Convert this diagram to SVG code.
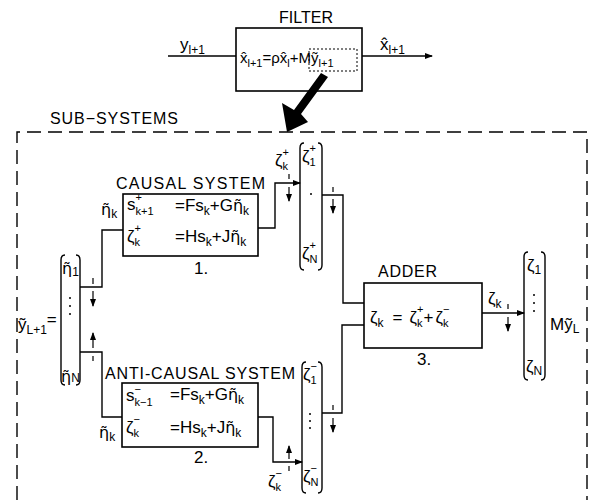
<svg xmlns="http://www.w3.org/2000/svg" width="591" height="504" viewBox="0 0 591 504">
<defs>
<marker id="ah" markerWidth="8" markerHeight="6" refX="7" refY="3" orient="auto" markerUnits="userSpaceOnUse"><path d="M0,0 L8,3 L0,6 Z" fill="#000"/></marker>
</defs>
<style>
text{font-family:"Liberation Sans",Arial,sans-serif;fill:#000}
.t{font-size:16px}
.eq{font-size:17px}
.s{font-size:12px}
.u{font-size:11px}
.et{font-family:"DejaVu Sans",sans-serif;font-size:16px}
.box{fill:none;stroke:#000;stroke-width:1.6}
.ln{fill:none;stroke:#000;stroke-width:1.4}
.col{fill:none;stroke:#000;stroke-width:1.4}
.tk{stroke:#000;stroke-width:1.2}
.dash{fill:none;stroke:#000;stroke-width:1.4;stroke-dasharray:14 7}
.dot{fill:#000}
</style>
<rect width="591" height="504" fill="#fff"/>

<!-- FILTER -->
<g id="filter">
<text class="t" x="306" y="23" text-anchor="middle">FILTER</text>
<rect class="box" x="236" y="28" width="126" height="63"/>
<text x="240" y="63" font-size="15">x̂<tspan font-size="11" dy="4">l+1</tspan><tspan dy="-4">=ρx̂</tspan><tspan font-size="11" dy="4">l</tspan><tspan dy="-4">+Mỹ</tspan><tspan font-size="11" dy="4">l+1</tspan></text>
<rect x="309" y="49" width="48" height="22" fill="none" stroke="#000" stroke-width="1" stroke-dasharray="2 2"/>
</g>
<g id="filter-io">
<text class="eq" x="180" y="50">y<tspan class="s" dy="4">l+1</tspan></text>
<text class="eq" x="380" y="50">x̂<tspan class="s" dy="4">l+1</tspan></text>
</g>

<!-- big arrow -->
<polygon points="321,73 328,77 301,114 308,122 287,132 282,103 294,110" fill="#000"/>

<!-- SUB-SYSTEMS dashed box -->
<g id="subsystems">
<text class="t" x="50" y="124" textLength="128" font-size="15">SUB−SYSTEMS</text>
<path class="dash" d="M17,500 L17,132 L587,132 L587,500"/>
</g>

<!-- input vector -->
<g id="input-vector">
<path class="col" d="M65,255 Q61,255 61,260 L61,380 Q61,385 65,385"/>
<path class="col" d="M76,255 Q80,255 80,260 L80,380 Q80,385 76,385"/>
<text class="eq" x="62" y="274"><tspan class="et">η̃</tspan><tspan class="s" dy="2">1</tspan></text>
<circle class="dot" cx="70" cy="298" r="1"/>
<circle class="dot" cx="70" cy="306" r="1"/>
<circle class="dot" cx="70" cy="314" r="1"/>
<text class="eq" x="61" y="382"><tspan class="et" font-size="14">η̃</tspan><tspan class="s">N</tspan></text>
<text class="eq" x="18" y="330">ỹ<tspan class="s" dy="4">L+1</tspan><tspan dy="-9">=</tspan></text>
</g>

<!-- causal system -->
<g id="causal">
<text class="t" x="116" y="189" textLength="149">CAUSAL SYSTEM</text>
<rect class="box" x="123" y="194" width="135" height="62"/>
<text class="eq" x="127" y="210">s<tspan class="u" dy="-9">+</tspan><tspan class="u" dx="-6.4" dy="14">k+1</tspan></text>
<text class="eq" x="175" y="211">=Fs<tspan class="s" dy="4">k</tspan><tspan dy="-4">+G</tspan><tspan class="et">η̃</tspan><tspan class="s" dy="4">k</tspan></text>
<text class="eq" x="127" y="242">ζ<tspan class="u" dy="-10">+</tspan><tspan class="u" dx="-6.4" dy="14">k</tspan></text>
<text class="eq" x="175" y="242">=Hs<tspan class="s" dy="4">k</tspan><tspan dy="-4">+J</tspan><tspan class="et">η̃</tspan><tspan class="s" dy="4">k</tspan></text>
<text class="eq" x="194" y="274">1.</text>
</g>

<!-- anti-causal system -->
<g id="anticausal">
<text class="t" x="105" y="379" textLength="190">ANTI-CAUSAL SYSTEM</text>
<rect class="box" x="122" y="383" width="136" height="64"/>
<text class="eq" x="126" y="401">s<tspan class="u" dy="-8">−</tspan><tspan class="u" dx="-6.4" dy="13">k−1</tspan></text>
<text class="eq" x="170" y="400">=Fs<tspan class="s" dy="4">k</tspan><tspan dy="-4">+G</tspan><tspan class="et">η̃</tspan><tspan class="s" dy="4">k</tspan></text>
<text class="eq" x="126" y="433">ζ<tspan class="u" dy="-10">−</tspan><tspan class="u" dx="-6.4" dy="14">k</tspan></text>
<text class="eq" x="170" y="433">=Hs<tspan class="s" dy="4">k</tspan><tspan dy="-4">+J</tspan><tspan class="et">η̃</tspan><tspan class="s" dy="4">k</tspan></text>
<text class="eq" x="194" y="463">2.</text>
</g>

<!-- causal output vector -->
<g id="causal-vector">
<path class="col" d="M304,143 Q300,143 300,148 L300,265 Q300,270 304,270"/>
<path class="col" d="M318,143 Q322,143 322,148 L322,265 Q322,270 318,270"/>
<text class="eq" x="302" y="162">ζ<tspan class="u" dy="-10">+</tspan><tspan class="u" dx="-6.4" dy="14">1</tspan></text>
<circle class="dot" cx="311" cy="194" r="1"/>
<text class="eq" x="302" y="259">ζ<tspan class="u" dy="-10">+</tspan><tspan class="u" dx="-6.4" dy="14">N</tspan></text>
</g>

<!-- anti-causal output vector -->
<g id="anticausal-vector">
<path class="col" d="M306,362 Q302,362 302,367 L302,488 Q302,493 306,493"/>
<path class="col" d="M318,362 Q322,362 322,367 L322,488 Q322,493 318,493"/>
<text class="eq" x="303" y="380">ζ<tspan class="u" dy="-10">−</tspan><tspan class="u" dx="-6.4" dy="14">1</tspan></text>
<circle class="dot" cx="310" cy="414" r="1"/>
<circle class="dot" cx="310" cy="421" r="1"/>
<circle class="dot" cx="310" cy="428" r="1"/>
<text class="eq" x="303" y="482">ζ<tspan class="u" dy="-10">−</tspan><tspan class="u" dx="-6.4" dy="14">N</tspan></text>
</g>

<!-- adder -->
<g id="adder">
<text class="t" x="378" y="277" textLength="59">ADDER</text>
<rect class="box" x="364" y="283" width="118" height="65"/>
<text class="eq" x="370" y="323">ζ<tspan class="s" dy="4">k</tspan><tspan dx="9" dy="-4">=</tspan><tspan dx="7">ζ</tspan><tspan class="u" dy="-10">+</tspan><tspan class="u" dx="-6.4" dy="14">k</tspan><tspan dx="1" dy="-4">+</tspan><tspan dx="2">ζ</tspan><tspan class="u" dy="-10">−</tspan><tspan class="u" dx="-6.4" dy="14">k</tspan></text>
<text class="eq" x="417" y="365">3.</text>
</g>

<!-- output vector -->
<g id="output-vector">
<path class="col" d="M528,252 Q524,252 524,257 L524,375 Q524,380 528,380"/>
<path class="col" d="M541,252 Q545,252 545,257 L545,375 Q545,380 541,380"/>
<text class="eq" x="527" y="271">ζ<tspan class="s" dy="3">1</tspan></text>
<circle class="dot" cx="534" cy="295" r="1"/>
<circle class="dot" cx="534" cy="303" r="1"/>
<circle class="dot" cx="534" cy="311" r="1"/>
<text class="eq" x="526" y="372">ζ<tspan class="s" dy="3">N</tspan></text>
<text class="eq" x="550" y="330">Mỹ<tspan class="s" dy="3">L</tspan></text>
</g>

<!-- connectors -->
<g id="connectors">
<line class="ln" x1="168" y1="56" x2="236" y2="56"/>
<line class="ln" x1="362" y1="56" x2="432" y2="56" marker-end="url(#ah)"/>
<path class="ln" d="M80,287 H102 V230 H123"/>
<path class="ln" d="M80,352 H102 V417 H122"/>
<path class="ln" d="M258,228 H275 V183 H300" marker-end="url(#ah)"/>
<path class="ln" d="M258,417 H273 V462 H302" marker-end="url(#ah)"/>
<path class="ln" d="M322,195 H343 V303 H364"/>
<path class="ln" d="M322,413 H342 V325 H364"/>
<line class="ln" x1="482" y1="313" x2="524" y2="313" marker-end="url(#ah)"/>

<!-- sampling ticks -->
<line class="tk" x1="93" y1="278" x2="93" y2="284"/>
<line class="tk" x1="93" y1="291" x2="93" y2="306" marker-end="url(#ah)"/>
<line class="tk" x1="93" y1="356" x2="93" y2="361"/>
<line class="tk" x1="93" y1="348" x2="93" y2="333" marker-end="url(#ah)"/>
<line class="tk" x1="289" y1="174" x2="289" y2="179"/>
<line class="tk" x1="289" y1="187" x2="289" y2="201" marker-end="url(#ah)"/>
<line class="tk" x1="333" y1="187" x2="333" y2="192"/>
<line class="tk" x1="333" y1="199" x2="333" y2="213" marker-end="url(#ah)"/>
<line class="tk" x1="333" y1="405" x2="333" y2="410"/>
<line class="tk" x1="333" y1="418" x2="333" y2="432" marker-end="url(#ah)"/>
<line class="tk" x1="289" y1="466" x2="289" y2="471"/>
<line class="tk" x1="289" y1="459" x2="289" y2="446" marker-end="url(#ah)"/>
<line class="tk" x1="508" y1="304" x2="508" y2="309"/>
<line class="tk" x1="508" y1="317" x2="508" y2="331" marker-end="url(#ah)"/>
</g>

<!-- connector labels -->
<g id="labels">
<text class="eq" x="101" y="215"><tspan class="et">η̃</tspan><tspan class="s" dy="3">k</tspan></text>
<text class="eq" x="99" y="438"><tspan class="et">η̃</tspan><tspan class="s" dy="3">k</tspan></text>
<text class="eq" x="275" y="166">ζ<tspan class="u" dy="-10">+</tspan><tspan class="u" dx="-6.4" dy="14">k</tspan></text>
<text class="eq" x="268" y="487">ζ<tspan class="u" dy="-10">−</tspan><tspan class="u" dx="-6.4" dy="14">k</tspan></text>
<text class="eq" x="488" y="304">ζ<tspan class="s" dy="4">k</tspan></text>
</g>
</svg>
